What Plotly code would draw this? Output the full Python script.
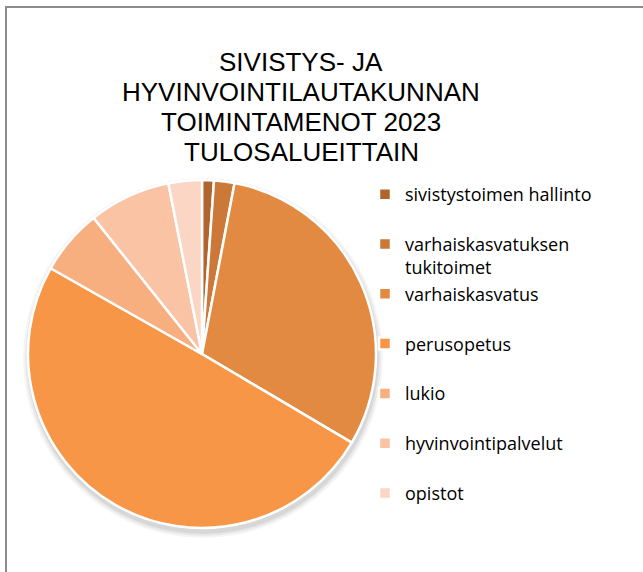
import plotly.graph_objects as go

labels = ["sivistystoimen hallinto", "varhaiskasvatuksen<br>tukitoimet", "varhaiskasvatus",
          "perusopetus", "lukio", "hyvinvointipalvelut", "opistot"]
values = [1.1, 1.9, 30.5, 49.7, 6.1, 7.6, 3.1]
colors = ["#B1652E", "#CC7838", "#E28A41", "#F79646", "#F8AF80", "#F9C3A4", "#FBD6C5"]
title_lines = ["SIVISTYS- JA", "HYVINVOINTILAUTAKUNNAN", "TOIMINTAMENOT 2023", "TULOSALUEITTAIN"]

W, H = 643, 572
cx, cy, r = 202, 354, 174

# pad single-line labels so every legend slot is two lines tall
legend_labels = [l if "<br>" in l else l + "<br>&nbsp;" for l in labels]

fig = go.Figure(go.Pie(
    labels=legend_labels,
    values=values,
    sort=False,
    direction="clockwise",
    rotation=0,
    textinfo="none",
    marker=dict(colors=colors, line=dict(color="white", width=2.5)),
    domain=dict(x=[(cx - r) / W, (cx + r) / W], y=[(H - cy - r) / H, (H - cy + r) / H]),
))

annotations = []
for i, line in enumerate(title_lines):
    annotations.append(dict(text=line, x=301 / W, y=1 - (62 + 30 * i) / H, xref="paper", yref="paper",
                            xanchor="center", yanchor="middle", showarrow=False,
                            font=dict(family="Liberation Sans, Arial", size=26, color="#000000")))

shapes = [dict(type="rect", xref="paper", yref="paper", x0=6 / W, x1=1.1, y0=-0.2, y1=1 - 7 / H,
               line=dict(color="#8C8C8C", width=2), fillcolor="rgba(0,0,0,0)", layer="above")]
# soft shadow beneath the pie
for dr, op in [(6, 0.04), (4, 0.05), (2, 0.07)]:
    shapes.append(dict(type="circle", xref="paper", yref="paper", layer="below",
                       x0=(cx - r - dr + 1) / W, x1=(cx + r + dr + 1) / W,
                       y0=(H - cy - r - dr - 4) / H, y1=(H - cy + r + dr - 4) / H,
                       line=dict(width=0), fillcolor="rgba(0,0,0,%s)" % op))

fig.update_layout(
    width=W, height=H,
    margin=dict(l=0, r=0, t=0, b=0),
    paper_bgcolor="white",
    annotations=annotations,
    legend=dict(x=365 / W, xanchor="left", y=1 - 176 / H, yanchor="top",
                valign="top", font=dict(family="Open Sans", size=18, color="#000000"),
                bgcolor="rgba(0,0,0,0)", borderwidth=0, tracegroupgap=0),
    shapes=shapes,
)

fig.write_html("out.html", config={"displayModeBar": False},
               post_script="document.body.style.margin='0';")
